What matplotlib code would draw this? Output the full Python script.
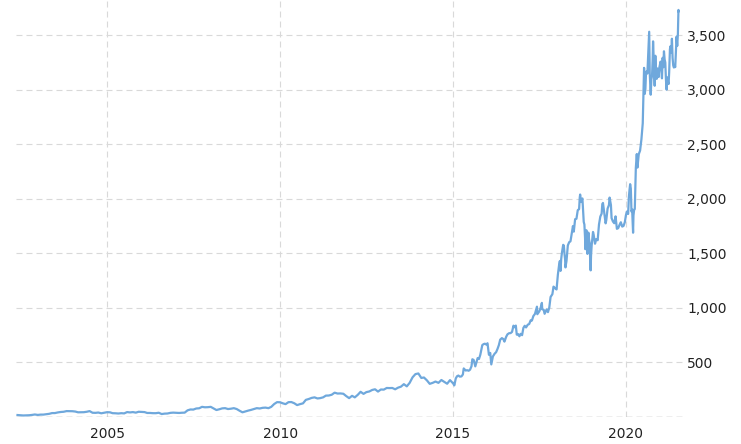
import matplotlib
matplotlib.use('Agg')
import matplotlib.pyplot as plt
import matplotlib.dates as mdates
import matplotlib.ticker as mticker
import pandas as pd

# monthly closes 2002-2014
monthly_start = '2002-05-31'
monthly_values = [
    18, 16, 14, 15, 16, 19, 23, 19,
    22, 22, 26, 29, 36, 36, 42, 46, 48, 54, 54, 53,
    50, 43, 43, 44, 48, 54, 39, 38, 41, 34, 39, 44,
    43, 35, 34, 32, 35, 33, 45, 42, 45, 40, 48, 47,
    45, 37, 37, 35, 35, 39, 27, 31, 32, 38, 40, 39,
    37, 39, 40, 61, 69, 68, 78, 80, 93, 89, 90, 93,
    78, 64, 71, 79, 81, 73, 76, 81, 73, 57, 43, 51,
    59, 65, 73, 81, 78, 84, 86, 81, 93, 119, 136, 135,
    125, 118, 136, 137, 126, 109, 118, 125, 157, 165, 175, 180,
    170, 173, 180, 196, 197, 204, 223, 215, 216, 213, 192, 173,
    194, 180, 203, 231, 212, 228, 234, 248, 254, 233, 252, 251,
    266, 265, 266, 254, 269, 278, 301, 281, 313, 364, 393, 399,
    358, 362, 336, 304, 313, 325, 313, 339, 322, 305, 338, 310,
]

# finer readings 2015-2021
recent_dates = [
    '2015-01-02', '2015-01-15', '2015-01-30', '2015-02-13', '2015-02-27', '2015-03-13',
    '2015-03-31', '2015-04-15', '2015-04-24', '2015-05-15', '2015-05-29', '2015-06-15',
    '2015-06-30', '2015-07-15', '2015-07-24', '2015-08-07', '2015-08-24', '2015-09-04',
    '2015-09-18', '2015-10-02', '2015-10-16', '2015-10-23', '2015-11-06', '2015-11-20',
    '2015-12-04', '2015-12-18', '2015-12-31',
    '2016-01-15', '2016-01-29', '2016-02-09', '2016-02-26', '2016-03-15', '2016-03-31',
    '2016-04-15', '2016-04-29', '2016-05-13', '2016-05-31', '2016-06-15', '2016-06-27',
    '2016-07-15', '2016-07-29', '2016-08-15', '2016-08-31', '2016-09-15', '2016-09-30',
    '2016-10-14', '2016-10-25', '2016-11-04', '2016-11-18', '2016-12-02', '2016-12-15',
    '2016-12-30',
    '2017-01-13', '2017-01-27', '2017-02-10', '2017-02-28', '2017-03-15', '2017-03-31',
    '2017-04-13', '2017-04-28', '2017-05-15', '2017-05-31', '2017-06-05', '2017-06-09',
    '2017-06-30', '2017-07-14', '2017-07-27', '2017-07-31', '2017-08-15', '2017-08-25',
    '2017-09-15', '2017-09-29', '2017-10-13', '2017-10-27', '2017-11-15', '2017-11-27',
    '2017-12-15', '2017-12-29',
    '2018-01-12', '2018-01-26', '2018-02-02', '2018-02-09', '2018-02-16', '2018-02-23',
    '2018-03-09', '2018-03-16', '2018-03-23', '2018-03-29', '2018-04-02', '2018-04-13',
    '2018-04-27', '2018-05-11', '2018-05-25', '2018-06-08', '2018-06-20', '2018-06-29',
    '2018-07-13', '2018-07-27', '2018-08-10', '2018-08-24', '2018-08-31', '2018-09-04',
    '2018-09-14', '2018-09-28', '2018-10-05', '2018-10-12', '2018-10-19', '2018-10-26',
    '2018-10-29', '2018-11-02', '2018-11-09', '2018-11-16', '2018-11-20', '2018-11-30',
    '2018-12-07', '2018-12-14', '2018-12-21', '2018-12-24', '2018-12-28',
    '2019-01-04', '2019-01-11', '2019-01-18', '2019-01-25', '2019-02-01', '2019-02-08',
    '2019-02-22', '2019-03-08', '2019-03-22', '2019-04-05', '2019-04-19', '2019-04-26',
    '2019-05-03', '2019-05-17', '2019-05-31', '2019-06-07', '2019-06-21', '2019-07-05',
    '2019-07-12', '2019-07-26', '2019-08-02', '2019-08-16', '2019-08-30', '2019-09-13',
    '2019-09-27', '2019-10-11', '2019-10-25', '2019-11-08', '2019-11-22', '2019-12-06',
    '2019-12-20', '2019-12-31',
    '2020-01-10', '2020-01-24', '2020-01-31', '2020-02-07', '2020-02-14', '2020-02-21',
    '2020-02-28', '2020-03-06', '2020-03-16', '2020-03-20', '2020-03-27', '2020-04-03',
    '2020-04-14', '2020-04-24', '2020-05-01', '2020-05-15', '2020-05-29', '2020-06-12',
    '2020-06-26', '2020-07-06', '2020-07-10', '2020-07-17', '2020-07-24', '2020-07-31',
    '2020-08-07', '2020-08-14', '2020-08-21', '2020-08-28', '2020-09-02', '2020-09-08',
    '2020-09-18', '2020-09-25', '2020-10-02', '2020-10-09', '2020-10-13', '2020-10-23',
    '2020-10-30', '2020-11-06', '2020-11-13', '2020-11-20', '2020-11-27', '2020-12-04',
    '2020-12-11', '2020-12-18', '2020-12-31',
    '2021-01-08', '2021-01-15', '2021-01-22', '2021-01-29', '2021-02-05', '2021-02-12',
    '2021-02-19', '2021-02-26', '2021-03-05', '2021-03-12', '2021-03-19', '2021-03-26',
    '2021-04-01', '2021-04-09', '2021-04-16', '2021-04-23', '2021-04-30', '2021-05-07',
    '2021-05-14', '2021-05-21', '2021-05-28', '2021-06-04', '2021-06-11', '2021-06-18',
    '2021-06-25', '2021-07-02', '2021-07-08', '2021-07-09',
]
recent_values = [
    308, 290, 354, 374, 380, 370,
    372, 390, 445, 426, 429, 424,
    434, 465, 529, 523, 464, 499,
    540, 532, 570, 599, 659, 668,
    672, 664, 676,
    570, 587, 482, 555, 580, 594,
    625, 659, 709, 723, 714, 691,
    735, 758, 768, 769, 780, 837,
    822, 838, 755, 760, 740, 762,
    750,
    817, 836, 821, 846, 852, 887,
    884, 925, 945, 995, 1011, 942,
    968, 1001, 1046, 987, 983, 946,
    986, 961, 1002, 1100, 1126, 1195,
    1179, 1169,
    1305, 1402, 1430, 1339, 1448, 1500,
    1578, 1571, 1495, 1447, 1371, 1430,
    1572, 1602, 1610, 1683, 1750, 1699,
    1813, 1817, 1896, 1905, 2012, 2039,
    1970, 2003, 1889, 1788, 1764, 1642,
    1538, 1665, 1712, 1593, 1495, 1690,
    1629, 1591, 1377, 1344, 1478,
    1575, 1640, 1696, 1670, 1626, 1588,
    1631, 1620, 1764, 1837, 1864, 1950,
    1962, 1869, 1775, 1804, 1911, 1942,
    2011, 1943, 1823, 1792, 1776, 1839,
    1725, 1731, 1761, 1785, 1745, 1751,
    1786, 1848,
    1883, 1861, 2008, 2079, 2134, 2095,
    1883, 1901, 1689, 1846, 1900, 1906,
    2283, 2410, 2286, 2409, 2442, 2545,
    2692, 3057, 3200, 2961, 3008, 3164,
    3167, 3148, 3284, 3401, 3531, 3149,
    2954, 3095, 3125, 3286, 3443, 3204,
    3036, 3311, 3128, 3099, 3195, 3162,
    3116, 3201, 3257,
    3182, 3104, 3292, 3206, 3352, 3277,
    3249, 3092, 3000, 3113, 3074, 3052,
    3161, 3372, 3399, 3340, 3467, 3291,
    3222, 3203, 3223, 3207, 3346, 3486,
    3401, 3510, 3731, 3719,
]

y_ticks = [500, 1000, 1500, 2000, 2500, 3000, 3500]
x_tick_years = [2005, 2010, 2015, 2020]

monthly_dates = pd.date_range(monthly_start, periods=len(monthly_values), freq='ME')
dates = list(monthly_dates) + list(pd.to_datetime(recent_dates))
values = monthly_values + recent_values

plt.rcParams['lines.scale_dashes'] = False
fig = plt.figure(figsize=(7.41, 4.44), dpi=100)
ax = fig.add_axes([16 / 741, 27 / 444, 667 / 741, 417 / 444])

ax.plot(dates, values, color='#6fa8dc', lw=1.6, zorder=3)

ax.set_xlim(pd.Timestamp('2002-05-15'), pd.Timestamp('2021-08-25'))
ax.set_ylim(0, 3822)

for s in ax.spines.values():
    s.set_visible(False)

dash = (0, (4.3, 2.9))
for v in y_ticks:
    ax.axhline(v, color='#d9d9d9', lw=0.8, linestyle=dash, zorder=1)
ax.axhline(0, color='#aaaaaa', lw=1.0, linestyle=dash, zorder=2)
for yr in x_tick_years:
    ax.axvline(pd.Timestamp(f'{yr}-01-01'), color='#d9d9d9', lw=0.8, linestyle=dash, zorder=1)

ax.yaxis.tick_right()
ax.set_yticks(y_ticks)
ax.yaxis.set_major_formatter(mticker.FuncFormatter(lambda v, p: f'{int(v):,}'))
ax.set_xticks([pd.Timestamp(f'{yr}-01-01') for yr in x_tick_years])
ax.xaxis.set_major_formatter(mdates.DateFormatter('%Y'))
ax.tick_params(axis='both', length=0, labelsize=10, colors='#222222')
ax.tick_params(axis='y', pad=3)
ax.tick_params(axis='x', pad=7)

fig.savefig('out.png', dpi=100)
